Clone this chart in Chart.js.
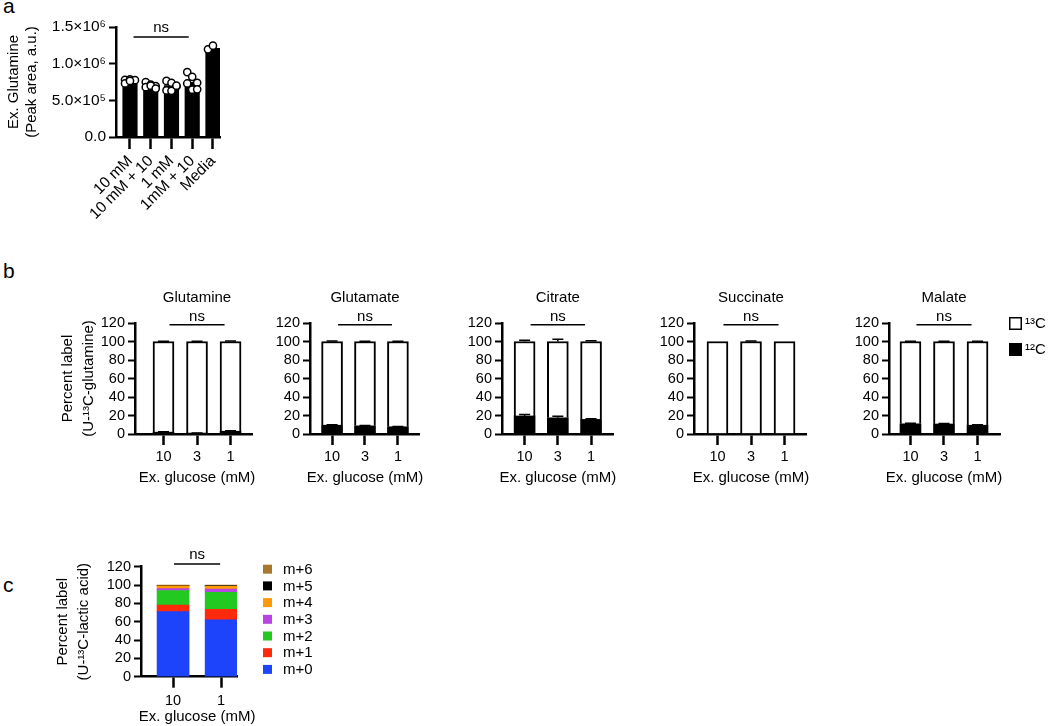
<!DOCTYPE html>
<html>
<head>
<meta charset="utf-8">
<script src="https://cdn.jsdelivr.net/npm/chart.js@4.4.0/dist/chart.umd.min.js"></script>
<style>
  body { margin: 0; width: 1050px; height: 726px; position: relative; overflow: hidden; background: #fff;
         font-family: "Liberation Sans", Arial, Helvetica, sans-serif; }
  canvas { position: absolute; }
  .letter { position: absolute; font-size: 21px; line-height: 21px; color: #000; }
</style>
</head>
<body>
<div class="letter" style="left:3px;top:-5px">a</div>
<div class="letter" style="left:3px;top:260px">b</div>
<div class="letter" style="left:3px;top:574px">c</div>
<script>
// ---- panel a: extracellular glutamine ----
const aGroups = ["10 mM", "10 mM + 10", "1 mM", "1mM + 10", "Media"]
const aBarValues = [767000, 690000, 700000, 745000, 1210000]
const aPoints = [
  [780000, 785000, 775000, 730000, 765000],
  [750000, 715000, 695000, 680000, 700000, 660000],
  [765000, 740000, 690000, 635000, 630000, 700000],
  [885000, 820000, 740000, 730000, 645000, 650000],
  [1195000, 1245000]
]
const aTickValues = [0, 500000, 1000000, 1500000]
const aTickLabels = ["0.0", "5.0×10⁵", "1.0×10⁶", "1.5×10⁶"]

// ---- panel b: percent label from U-13C-glutamine ----
const bGlucose = ["10", "3", "1"]
const bMetabolites = ["Glutamine", "Glutamate", "Citrate", "Succinate", "Malate"]
const b12C = [[2, 1, 3], [9.5, 8.8, 7.8], [19.5, 17.5, 15.8], [0.3, 0.3, 0.3], [11, 10.8, 9.5]]
const b13C = [[98, 99, 97], [90.5, 91.2, 92.2], [80.5, 82.5, 84.2], [99.7, 99.7, 99.7], [89, 89.2, 90.5]]
const b12CErr = [[0.4, 0.2, 0.5], [0.5, 0.4, 0.3], [1.5, 1.8, 0.8], [0, 0, 0], [0.5, 0.5, 0.4]]
const b13CErr = [[0.4, 0.2, 0.5], [0.5, 0.4, 0.4], [1.4, 2.3, 0.8], [0, 0.5, 0], [0.4, 0.4, 0.3]]
const bTickValues = [0, 20, 40, 60, 80, 100, 120]

// ---- panel c: percent label from U-13C-lactic acid ----
const cGlucose = ["10", "1"]
const cIsotopologues = ["m+0", "m+1", "m+2", "m+3", "m+4", "m+5", "m+6"]
const cFractions = [[71, 62], [7, 11.5], [16, 18.5], [2, 3.5], [3, 3], [0.4, 0.5], [0.6, 1]]
const cColors = ["#1d44fb", "#ff2a0c", "#21c921", "#b744e3", "#ff9a05", "#000000", "#a8792c"]

const FONT = '"Liberation Sans", Arial, Helvetica, sans-serif'
Chart.defaults.font.family = FONT
Chart.defaults.font.size = 15
Chart.defaults.color = "#000"
Chart.defaults.animation = false
Chart.defaults.events = []

// error bars, "ns" brackets, panel titles, x titles and small legends
const decor = {
  id: "decor",
  afterDatasetsDraw(chart, args, opts) {
    const { ctx, chartArea, scales: { x, y } } = chart
    ctx.save()
    ctx.strokeStyle = "#000"
    ctx.fillStyle = "#000"
    ctx.font = "15px " + FONT
    ctx.textAlign = "center"
    ctx.textBaseline = "middle"

    chart.data.datasets.forEach((ds, di) => {
      if (!ds.errors) return
      chart.getDatasetMeta(di).data.forEach((bar, i) => {
        const e = ds.errors[i]
        if (!e) return
        const len = y.getPixelForValue(0) - y.getPixelForValue(e)
        ctx.lineWidth = 1.5
        ctx.beginPath()
        ctx.moveTo(bar.x, bar.y)
        ctx.lineTo(bar.x, bar.y - len)
        ctx.moveTo(bar.x - 5.5, bar.y - len)
        ctx.lineTo(bar.x + 5.5, bar.y - len)
        ctx.stroke()
      })
    })

    if (opts.ns) {
      const n = opts.ns
      const x1 = x.getPixelForValue(n.from) + n.inset
      const x2 = x.getPixelForValue(n.to) - n.inset
      const yy = y.getPixelForValue(n.y)
      ctx.lineWidth = 1.5
      ctx.beginPath()
      ctx.moveTo(x1, yy)
      ctx.lineTo(x2, yy)
      ctx.stroke()
      ctx.fillText("ns", (x1 + x2) / 2, yy - n.gap)
    }

    if (opts.title) {
      ctx.fillText(opts.title.text, x.getPixelForValue(opts.title.at), chartArea.top - opts.title.gap)
    }

    if (opts.xTitle) {
      ctx.fillText(opts.xTitle.text, x.getPixelForValue(opts.xTitle.at), chartArea.bottom + opts.xTitle.gap)
    }

    if (opts.legend) {
      const L = opts.legend
      const items = chart.data.datasets.slice().reverse()
      items.forEach((ds, k) => {
        const bx = chartArea.right + L.dx
        const by = chartArea.top + L.dy + k * L.step
        ctx.fillStyle = ds.backgroundColor
        ctx.fillRect(bx, by, L.box, L.box)
        if (L.stroke) {
          ctx.lineWidth = 1.5
          ctx.strokeRect(bx + 0.75, by + 0.75, L.box - 1.5, L.box - 1.5)
        }
        ctx.fillStyle = "#000"
        ctx.textAlign = "left"
        ctx.fillText(ds.label, bx + L.box + L.textGap, by + L.box / 2 + 0.5)
      })
    }
    ctx.restore()
  }
}

function mount(box) {
  const c = document.createElement("canvas")
  c.width = box.w
  c.height = box.h
  c.style.left = box.x + "px"
  c.style.top = box.y + "px"
  document.body.appendChild(c)
  return c
}

function panel(o) {
  const { box, area } = o
  const rot = o.xRotate || 0
  const yLabel = v => o.yTickLabels ? o.yTickLabels[o.yTicks.indexOf(v)] : String(v)
  return new Chart(mount(box), {
    type: "bar",
    data: { datasets: o.datasets },
    plugins: [decor],
    options: {
      responsive: false,
      layout: { padding: { left: 0, bottom: 0, top: area.t - box.y, right: box.x + box.w - area.r } },
      plugins: { legend: { display: false }, tooltip: { enabled: false }, decor: o.decor },
      scales: {
        x: {
          type: "linear", min: o.xMin, max: o.xMax, offset: false, stacked: o.stacked,
          afterBuildTicks: s => { s.ticks = o.labels.map((_, i) => ({ value: i })) },
          afterFit: s => { s.height = box.y + box.h - area.b },
          ticks: { callback: v => o.labels[v], autoSkip: false, minRotation: rot, maxRotation: rot,
                   padding: o.xPad, font: { size: o.xFont || 14.5 } },
          grid: { offset: false, drawOnChartArea: false, tickLength: o.xTickLen, tickWidth: 2.5, tickColor: "#000" },
          border: { color: "#000", width: 2.5 }
        },
        y: {
          min: 0, max: o.yMax, stacked: o.stacked,
          afterBuildTicks: s => { s.ticks = o.yTicks.map(v => ({ value: v })) },
          afterFit: s => { s.width = area.l - box.x },
          ticks: { callback: yLabel, autoSkip: false, padding: 3, font: { size: o.yFont || 14.5 } },
          grid: { drawOnChartArea: false, tickLength: 7, tickWidth: 2, tickColor: "#000" },
          border: { color: "#000", width: 2.5 },
          title: o.yTitle ? { display: true, text: o.yTitle, font: { size: 15, lineHeight: o.yTitleLH || 1.4 },
                              padding: { top: o.yTitlePad, bottom: 0 } } : { display: false }
        }
      }
    }
  })
}

// panel a
panel({
  box: { x: 0, y: 0, w: 260, h: 232 },
  area: { l: 116, t: 27, r: 220, b: 137 },
  xMin: -0.675, xMax: 4.34, labels: aGroups, xRotate: 45, xFont: 15.5, xPad: 3, xTickLen: 12,
  yMax: 1500000, yTicks: aTickValues, yTickLabels: aTickLabels, yFont: 15.5,
  yTitle: ["Ex. Glutamine", "(Peak area, a.u.)"], yTitlePad: 5, yTitleLH: 1.2,
  datasets: [
    {
      type: "scatter", order: 0,
      data: aPoints.flatMap((pts, i) => pts.map((v, j) => ({ x: i + ((j % 3) - 1) * 0.24, y: v }))),
      pointRadius: 3.6, pointBackgroundColor: "#fff", pointBorderColor: "#000", pointBorderWidth: 1.5
    },
    {
      type: "bar", order: 1,
      data: aBarValues.map((v, i) => ({ x: i, y: v })),
      backgroundColor: "#000", borderWidth: 0, barThickness: 14.5
    }
  ],
  decor: { ns: { from: 0, to: 3, y: 1364000, inset: 3.5, gap: 9 } }
})

// panel b
const bAreas = [
  { l: 135, r: 252, xMin: -0.85, xMax: 2.64 },
  { l: 310, r: 419, xMin: -0.67, xMax: 2.64 },
  { l: 502, r: 613, xMin: -0.68, xMax: 2.66 },
  { l: 694, r: 806, xMin: -0.70, xMax: 2.64 },
  { l: 889, r: 1000, xMin: -0.64, xMax: 2.67 }
]
bMetabolites.forEach((name, m) => {
  const a = bAreas[m]
  const first = m === 0
  const last = m === bMetabolites.length - 1
  const boxX = first ? 40 : a.l - 42
  const boxR = last ? 1050 : a.r + 30
  panel({
    box: { x: boxX, y: 280, w: boxR - boxX, h: 210 },
    area: { l: a.l, t: 323, r: a.r, b: 434 },
    xMin: a.xMin, xMax: a.xMax, labels: bGlucose, xPad: 3, xTickLen: 11,
    yMax: 120, yTicks: bTickValues, stacked: true,
    yTitle: first ? ["Percent label", "(U-¹³C-glutamine)"] : null, yTitlePad: 17,
    datasets: [
      { label: "¹²C", data: b12C[m].map((v, i) => ({ x: i, y: v })), backgroundColor: "#000",
        borderWidth: 0, barThickness: 21, errors: b12CErr[m] },
      { label: "¹³C", data: b13C[m].map((v, i) => ({ x: i, y: v })), backgroundColor: "#fff",
        borderColor: "#000", borderWidth: 2, barThickness: 21, errors: b13CErr[m] }
    ],
    decor: {
      title: { text: name, at: 1, gap: 25 },
      xTitle: { text: "Ex. glucose (mM)", at: 1, gap: 44 },
      ns: { from: 0, to: 2, y: 118, inset: 6, gap: 8 },
      legend: last ? { dx: 9, dy: -6, box: 13, step: 26, textGap: 3, stroke: true } : null
    }
  })
})

// panel c
panel({
  box: { x: 40, y: 540, w: 310, h: 186 },
  area: { l: 141, t: 566.7, r: 237, b: 676.7 },
  xMin: -0.667, xMax: 1.33, labels: cGlucose, xPad: 5, xTickLen: 11,
  yMax: 120, yTicks: bTickValues, stacked: true,
  yTitle: ["Percent label", "(U-¹³C-lactic acid)"], yTitlePad: 12,
  datasets: cIsotopologues.map((lab, k) => ({
    label: lab, data: cFractions[k].map((v, i) => ({ x: i, y: v })),
    backgroundColor: cColors[k], borderWidth: 0, barThickness: 32
  })),
  decor: {
    xTitle: { text: "Ex. glucose (mM)", at: 0.5, gap: 40.5 },
    ns: { from: 0, to: 1, y: 123, inset: 1, gap: 9 },
    legend: { dx: 26, dy: -2, box: 9, step: 16.7, textGap: 11, stroke: false }
  }
})
</script>
</body>
</html>
